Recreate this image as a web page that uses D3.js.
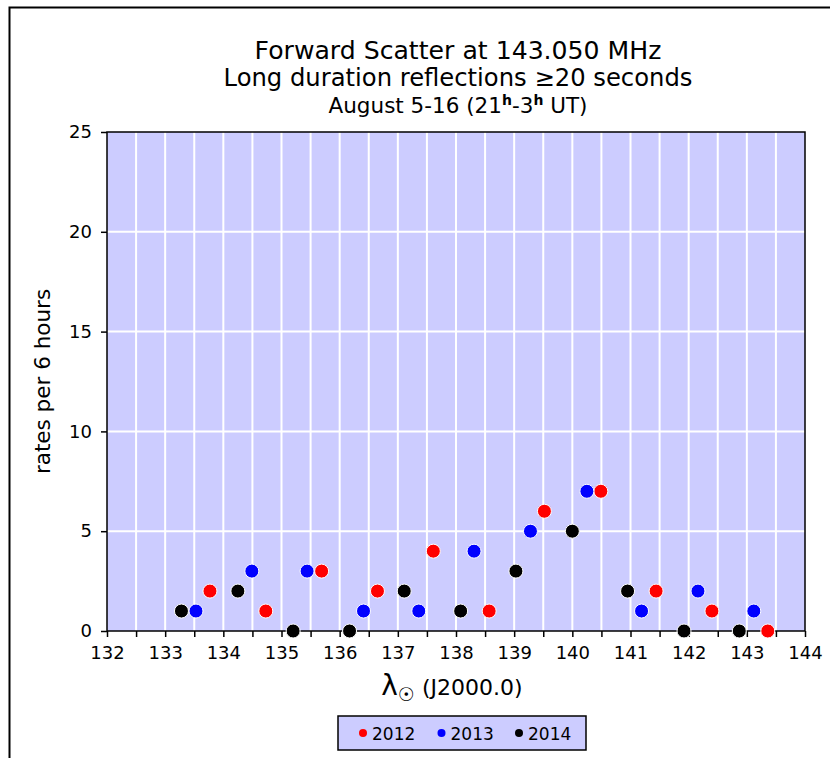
<!DOCTYPE html>
<html>
<head>
<meta charset="utf-8">
<script src="https://cdn.jsdelivr.net/npm/d3@7/dist/d3.min.js"></script>
<style>
  html, body { margin: 0; padding: 0; background: #fff; }
  svg { display: block; }
  text { font-family: "DejaVu Sans", Verdana, sans-serif; fill: #000; }
</style>
</head>
<body>
<svg id="chart" width="830" height="758"></svg>
<script>
// Solar longitude (J2000.0) and rates per 6 hours for each year
const lambda2012 = [133.77, 134.73, 135.69, 136.65, 137.61, 138.57, 139.52, 140.49, 141.44, 142.40, 143.36];
const rate2012   = [2, 1, 3, 2, 4, 1, 6, 7, 2, 1, 0];
const lambda2013 = [133.53, 134.49, 135.44, 136.41, 137.36, 138.31, 139.28, 140.25, 141.19, 142.16, 143.12];
const rate2013   = [1, 3, 3, 1, 1, 4, 5, 7, 1, 2, 1];
const lambda2014 = [133.28, 134.25, 135.20, 136.17, 137.11, 138.08, 139.03, 140.00, 140.95, 141.92, 142.87];
const rate2014   = [1, 2, 0, 0, 2, 1, 3, 5, 2, 0, 0];

const years  = ["2012", "2013", "2014"];
const colors = ["#ff0000", "#0000ff", "#000000"];
const xMinor = d3.range(132, 144.01, 0.5);
const yTicks = [0, 5, 10, 15, 20, 25];

const series = [
  { year: years[0], color: colors[0], x: lambda2012, y: rate2012 },
  { year: years[1], color: colors[1], x: lambda2013, y: rate2013 },
  { year: years[2], color: colors[2], x: lambda2014, y: rate2014 }
];

const svg = d3.select("#chart");
const plot = { left: 107, right: 805, top: 132, bottom: 631 };

const x = d3.scaleLinear().domain([132, 144]).range([plot.left, plot.right]);
const y = d3.scaleLinear().domain([0, 25]).range([plot.bottom, plot.top]);

// Scale a text element's font so that it spans the given width
function fitWidth(sel, width) {
  const node = sel.node();
  const fs = parseFloat(sel.attr("font-size"));
  const w = node.getComputedTextLength();
  sel.attr("font-size", (fs * width / w).toFixed(2));
}

// Outer frame (top and left edges)
svg.append("path")
  .attr("d", "M9.5,758 L9.5,7.5 L830,7.5")
  .attr("fill", "none").attr("stroke", "#000").attr("stroke-width", 2);

// Plot background
svg.append("rect")
  .attr("x", plot.left).attr("y", plot.top)
  .attr("width", plot.right - plot.left).attr("height", plot.bottom - plot.top)
  .attr("fill", "#ccccff");

// Grid lines
svg.append("g").selectAll("line").data(xMinor.slice(1, -1)).join("line")
  .attr("x1", d => x(d)).attr("x2", d => x(d))
  .attr("y1", plot.top).attr("y2", plot.bottom)
  .attr("stroke", "#fff").attr("stroke-width", 2);
svg.append("g").selectAll("line").data(yTicks.slice(1, -1)).join("line")
  .attr("x1", plot.left).attr("x2", plot.right)
  .attr("y1", d => y(d)).attr("y2", d => y(d))
  .attr("stroke", "#fff").attr("stroke-width", 2);

// Plot border
svg.append("rect")
  .attr("x", plot.left).attr("y", plot.top)
  .attr("width", plot.right - plot.left).attr("height", plot.bottom - plot.top)
  .attr("fill", "none").attr("stroke", "#000").attr("stroke-width", 1.5);

// X axis: ticks every 0.5, labels every 1
const xAxis = svg.append("g").attr("transform", `translate(0,${plot.bottom})`)
  .call(d3.axisBottom(x).tickValues(xMinor).tickSize(6).tickPadding(9)
    .tickFormat(d => Number.isInteger(d) ? d3.format("d")(d) : ""));
xAxis.select(".domain").remove();
xAxis.selectAll("line").attr("stroke", "#000").attr("stroke-width", 1.5);
xAxis.selectAll("text").attr("font-size", 18).attr("font-family", "DejaVu Sans");

// Y axis
const yAxis = svg.append("g").attr("transform", `translate(${plot.left},0)`)
  .call(d3.axisLeft(y).tickValues(yTicks).tickSize(6).tickPadding(9));
yAxis.select(".domain").remove();
yAxis.selectAll("line").attr("stroke", "#000").attr("stroke-width", 1.5);
yAxis.selectAll("text").attr("font-size", 18).attr("font-family", "DejaVu Sans");

// Points
series.forEach(s => {
  svg.append("g").selectAll("circle").data(s.x.map((v, i) => [v, s.y[i]])).join("circle")
    .attr("cx", d => x(d[0])).attr("cy", d => y(d[1]))
    .attr("r", 7)
    .attr("fill", s.color)
    .attr("stroke", "#fff").attr("stroke-width", 1);
});

// Titles
const cx = 458;
const t1 = svg.append("text").attr("x", cx).attr("y", 59).attr("text-anchor", "middle")
  .attr("font-size", 22)
  .text("Forward Scatter at 143.050 MHz");
fitWidth(t1, 407);
const t2 = svg.append("text").attr("x", cx).attr("y", 86).attr("text-anchor", "middle")
  .attr("font-size", 22)
  .text("Long duration reflections \u226520 seconds");
fitWidth(t2, 469);
const sub = svg.append("text").attr("x", cx).attr("y", 113).attr("text-anchor", "middle")
  .attr("font-size", 21.5);
sub.append("tspan").text("August 5-16 (21");
sub.append("tspan").attr("font-size", 14).attr("dy", -8).attr("font-weight", "bold").text("h");
sub.append("tspan").attr("dy", 8).text("-3");
sub.append("tspan").attr("font-size", 14).attr("dy", -8).attr("font-weight", "bold").text("h");
sub.append("tspan").attr("dy", 8).text(" UT)");

// Axis titles
const xt = svg.append("text").attr("x", 452).attr("y", 695).attr("text-anchor", "middle")
  .attr("font-size", 22);
xt.append("tspan").attr("font-size", 28).text("\u03bb");
xt.append("tspan").attr("font-size", 19).attr("dy", 6).text("\u2609");
xt.append("tspan").attr("dy", -6).text(" (J2000.0)");

svg.append("text")
  .attr("transform", `translate(50,${(plot.top + plot.bottom) / 2}) rotate(-90)`)
  .attr("text-anchor", "middle").attr("font-size", 21.5)
  .text("rates per 6 hours");

// Legend
const lg = svg.append("g");
lg.append("rect").attr("x", 338).attr("y", 716).attr("width", 248).attr("height", 34)
  .attr("fill", "#ccccff").attr("stroke", "#000").attr("stroke-width", 1.5);
const legendX = [363, 441.5, 519];
years.forEach((yr, i) => {
  lg.append("circle").attr("cx", legendX[i]).attr("cy", 733).attr("r", 4).attr("fill", colors[i]);
  lg.append("text").attr("x", legendX[i] + 9).attr("y", 739.5).attr("font-size", 17).text(yr);
});
</script>
</body>
</html>
